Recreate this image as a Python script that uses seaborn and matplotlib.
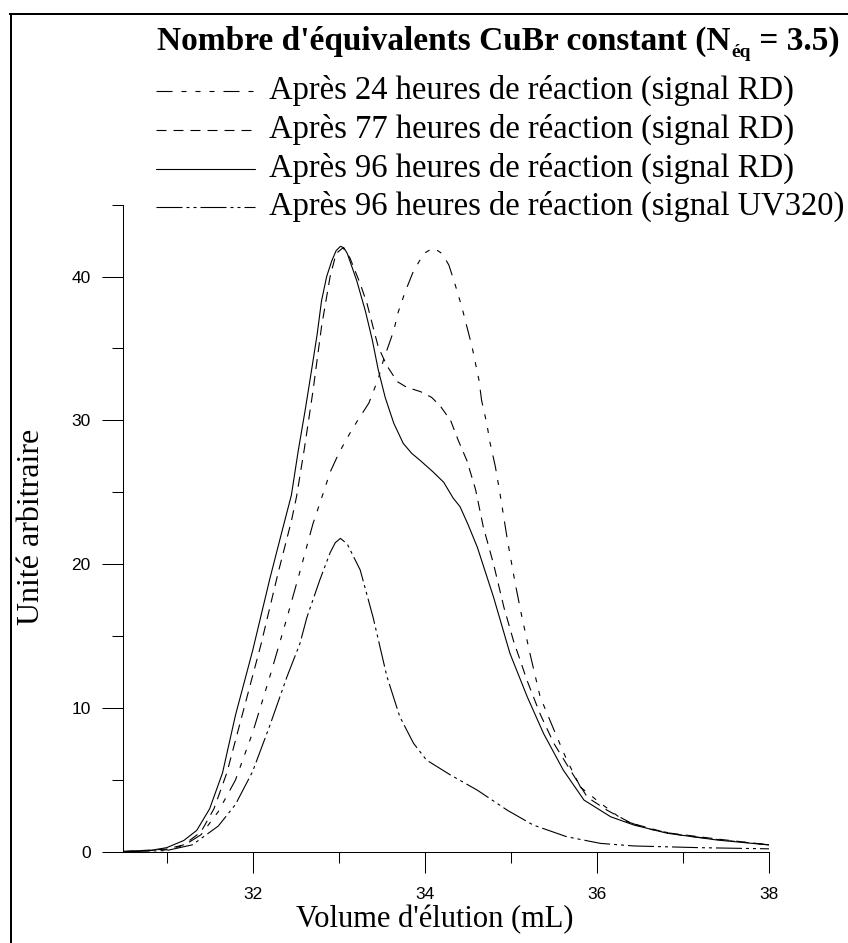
import matplotlib
matplotlib.use("Agg")
import matplotlib.pyplot as plt
from matplotlib.lines import Line2D
from matplotlib.ticker import FixedLocator
import numpy as np
import pandas as pd
import seaborn as sns

# ---------------- data ----------------
labels = [
    "Après 24 heures de réaction (signal RD)",
    "Après 77 heures de réaction (signal RD)",
    "Après 96 heures de réaction (signal RD)",
    "Après 96 heures de réaction (signal UV320)",
]

x_24 = [30.5, 31.0, 31.2, 31.4, 31.6, 31.8, 32.0, 32.2, 32.4, 32.55, 32.7, 32.84, 32.9, 33.0,
        33.1, 33.21, 33.35, 33.46, 33.52, 33.64, 33.69, 33.77, 33.87, 33.99, 34.1, 34.2,
        34.28, 34.35, 34.43, 34.49, 34.55, 34.63, 34.66, 34.72, 34.76, 34.82, 34.88, 34.96,
        35.05, 35.13, 35.23, 35.34, 35.5, 35.65, 35.81, 36.04, 36.31, 36.6, 37.0, 37.5, 38.0]
y_24 = [0.02, 0.15, 0.45, 1.2, 2.8, 5.0, 8.3, 12.2, 16.3, 19.5, 22.8, 25.3, 26.4, 27.7,
        28.8, 29.9, 31.2, 32.9, 34.2, 36.25, 37.5, 38.9, 40.4, 41.6, 42.0, 41.6,
        40.8, 39.5, 37.9, 36.5, 35.1, 32.8, 31.4, 29.8, 28.4, 26.8, 24.7, 21.7,
        18.7, 16.3, 13.6, 10.8, 8.5, 6.4, 4.5, 3.4, 2.2, 1.6, 1.15, 0.8, 0.5]

x_77 = [30.5, 31.0, 31.2, 31.4, 31.55, 31.7, 31.9, 32.1, 32.3, 32.45, 32.51, 32.6, 32.7, 32.8,
        32.9, 32.97, 33.05, 33.13, 33.25, 33.33, 33.39, 33.46, 33.56, 33.68, 33.79, 33.95,
        34.08, 34.18, 34.3, 34.39, 34.49, 34.59, 34.68, 34.8, 34.92, 35.03, 35.19, 35.34,
        35.5, 35.69, 35.89, 36.12, 36.4, 36.8, 37.4, 38.0]
y_77 = [0.03, 0.2, 0.5, 1.4, 3.0, 5.5, 10.0, 14.5, 19.5, 23.0, 24.7, 28.0, 32.0, 36.5,
        40.0, 41.6, 42.0, 41.3, 39.5, 38.1, 36.7, 35.1, 33.8, 32.7, 32.3, 32.0,
        31.6, 31.0, 30.0, 28.6, 27.2, 25.2, 22.6, 20.0, 17.0, 14.7, 11.9, 9.6,
        7.55, 5.7, 3.8, 2.9, 2.0, 1.35, 0.9, 0.5]

x_96 = [30.5, 30.8, 31.0, 31.2, 31.35, 31.5, 31.65, 31.8, 32.0, 32.2, 32.35, 32.45, 32.53,
        32.61, 32.69, 32.75, 32.8, 32.86, 32.92, 32.97, 33.02, 33.06, 33.1, 33.21, 33.31, 33.39, 33.46,
        33.54, 33.64, 33.75, 33.85, 33.95, 34.1, 34.22, 34.33, 34.41, 34.5, 34.61, 34.8,
        34.99, 35.19, 35.38, 35.61, 35.85, 36.16, 36.43, 36.82, 37.4, 38.0]
y_96 = [0.05, 0.1, 0.3, 0.8, 1.5, 3.0, 5.5, 9.5, 14.0, 19.0, 22.5, 24.8, 27.9,
        30.7, 33.7, 36.0, 38.3, 40.0, 41.1, 41.8, 42.1, 42.0, 41.6, 39.7, 37.6, 35.6, 33.5,
        31.6, 29.8, 28.4, 27.7, 27.2, 26.4, 25.7, 24.6, 24.0, 22.8, 21.2, 17.7,
        13.8, 10.8, 8.24, 5.69, 3.61, 2.45, 1.875, 1.3, 0.83, 0.49]

x_uv = [30.5, 31.0, 31.3, 31.6, 31.8, 32.0, 32.2, 32.4, 32.55, 32.63, 32.78, 32.9, 32.96, 33.02,
        33.1, 33.25, 33.4, 33.56, 33.71, 33.87, 34.02, 34.3, 34.61, 34.96, 35.26, 35.65,
        36.04, 36.43, 37.2, 38.0]
y_uv = [0.02, 0.1, 0.5, 1.8, 3.3, 5.6, 8.8, 12.2, 14.5, 16.3, 18.9, 20.8, 21.5, 21.8,
        21.4, 19.6, 16.3, 12.2, 9.4, 7.55, 6.39, 5.35, 4.3, 2.9, 1.875, 1.06,
        0.6, 0.42, 0.3, 0.22]

x_major = [32, 34, 36, 38]
x_minor = [31, 33, 35, 37]
y_major = [0, 10, 20, 30, 40]
y_minor = [5, 15, 25, 35, 45]

# ---------------- style ----------------
sns.set_style("ticks")
plt.rcParams["font.family"] = ["Liberation Serif", "DejaVu Serif"]
plt.rcParams["lines.scale_dashes"] = False

W, H = 848, 943
fig = plt.figure(figsize=(W / 100, H / 100), dpi=100)
fig.patch.set_facecolor("white")

x0, x1 = 122.7, 769.0
yb, yt = 852.0, 204.6
ax = fig.add_axes([x0 / W, 1 - yb / H, (x1 - x0) / W, (yb - yt) / H])
ax.set_facecolor("white")

PX = 0.72  # points per pixel
dash_styles = {
    labels[0]: (16 * PX, 9 * PX, 5 * PX, 9 * PX, 5 * PX, 9 * PX, 5 * PX, 9 * PX),
    labels[1]: (10 * PX, 7 * PX),
    labels[2]: "",
    labels[3]: (26 * PX, 4 * PX, 3 * PX, 4 * PX, 3 * PX, 4 * PX),
}

df = pd.concat([
    pd.DataFrame({"x": x_24, "y": y_24, "serie": labels[0]}),
    pd.DataFrame({"x": x_77, "y": y_77, "serie": labels[1]}),
    pd.DataFrame({"x": x_96, "y": y_96, "serie": labels[2]}),
    pd.DataFrame({"x": x_uv, "y": y_uv, "serie": labels[3]}),
], ignore_index=True)

sns.lineplot(data=df, x="x", y="y", style="serie", style_order=labels,
             dashes=dash_styles, color="black", linewidth=0.8,
             estimator=None, legend=False, ax=ax)

ax.set_xlim(30.49, 38)
ax.set_ylim(0, 45)
ax.xaxis.set_major_locator(FixedLocator(x_major))
ax.xaxis.set_minor_locator(FixedLocator(x_minor))
ax.yaxis.set_major_locator(FixedLocator(y_major))
ax.yaxis.set_minor_locator(FixedLocator(y_minor))
ax.set_xticklabels([str(v) for v in x_major])
ax.set_yticklabels([str(v) for v in y_major])
for s in ["top", "right"]:
    ax.spines[s].set_visible(False)
for s in ["left", "bottom"]:
    ax.spines[s].set_color("black")
    ax.spines[s].set_linewidth(0.75)
ax.tick_params(which="major", direction="out", length=21 * PX, width=0.75,
               color="black", labelsize=12.5, labelcolor="black")
ax.tick_params(which="minor", direction="out", length=11 * PX, width=0.75, color="black")
ax.tick_params(axis="x", which="major", pad=10)
ax.tick_params(axis="y", which="major", pad=8)
for lab in ax.get_xticklabels() + ax.get_yticklabels():
    lab.set_family(["Liberation Sans", "DejaVu Sans"])

ax.set_xlabel("Volume d'élution (mL)", fontsize=22, color="black", va="top")
ax.xaxis.set_label_coords((435 - x0) / (x1 - x0), -(905 - yb) / (yb - yt))
ax.set_ylabel("Unité arbitraire", fontsize=23, color="black", va="center")
ax.yaxis.set_label_coords((31 - x0) / (x1 - x0), (yb - 527) / (yb - yt))

# ---------------- title with subscript ----------------
fig.canvas.draw()
r = fig.canvas.get_renderer()
tsize = 24
t1 = fig.text(157 / W, 1 - 50 / H, "Nombre d'équivalents CuBr constant (N",
              fontsize=tsize, weight="bold", va="baseline", ha="left", color="black")
bb = t1.get_window_extent(r)
t2 = fig.text((bb.x1 + 1) / W, 1 - 57 / H, "éq", fontsize=14, weight="bold",
              va="baseline", ha="left", color="black")
bb2 = t2.get_window_extent(r)
t3 = fig.text(bb2.x1 / W, 1 - 50 / H, " = 3.5)", fontsize=tsize, weight="bold",
              va="baseline", ha="left", color="black")

# ---------------- legend (manual) ----------------
row_y = [91, 129.5, 168.5, 207]
for lab, yy in zip(labels, row_y):
    ls = dash_styles[lab]
    ln = Line2D([156 / W, 255 / W], [1 - yy / H, 1 - yy / H], transform=fig.transFigure,
                color="black", linewidth=0.8)
    if ls:
        ln.set_dashes(ls)
    fig.add_artist(ln)
    fig.text(268.7 / W, 1 - (yy + 8) / H, lab, fontsize=23.5, va="baseline", ha="left",
             color="black")

# ---------------- figure frame ----------------
fig.add_artist(Line2D([11 / W, 11 / W], [0, 1 - 14 / H], transform=fig.transFigure,
                      color="black", linewidth=2 * PX, solid_capstyle="projecting"))
fig.add_artist(Line2D([10 / W, 1.0], [1 - 14 / H, 1 - 14 / H], transform=fig.transFigure,
                      color="black", linewidth=2 * PX, solid_capstyle="projecting"))

fig.savefig("out.png", dpi=100, facecolor="white")
